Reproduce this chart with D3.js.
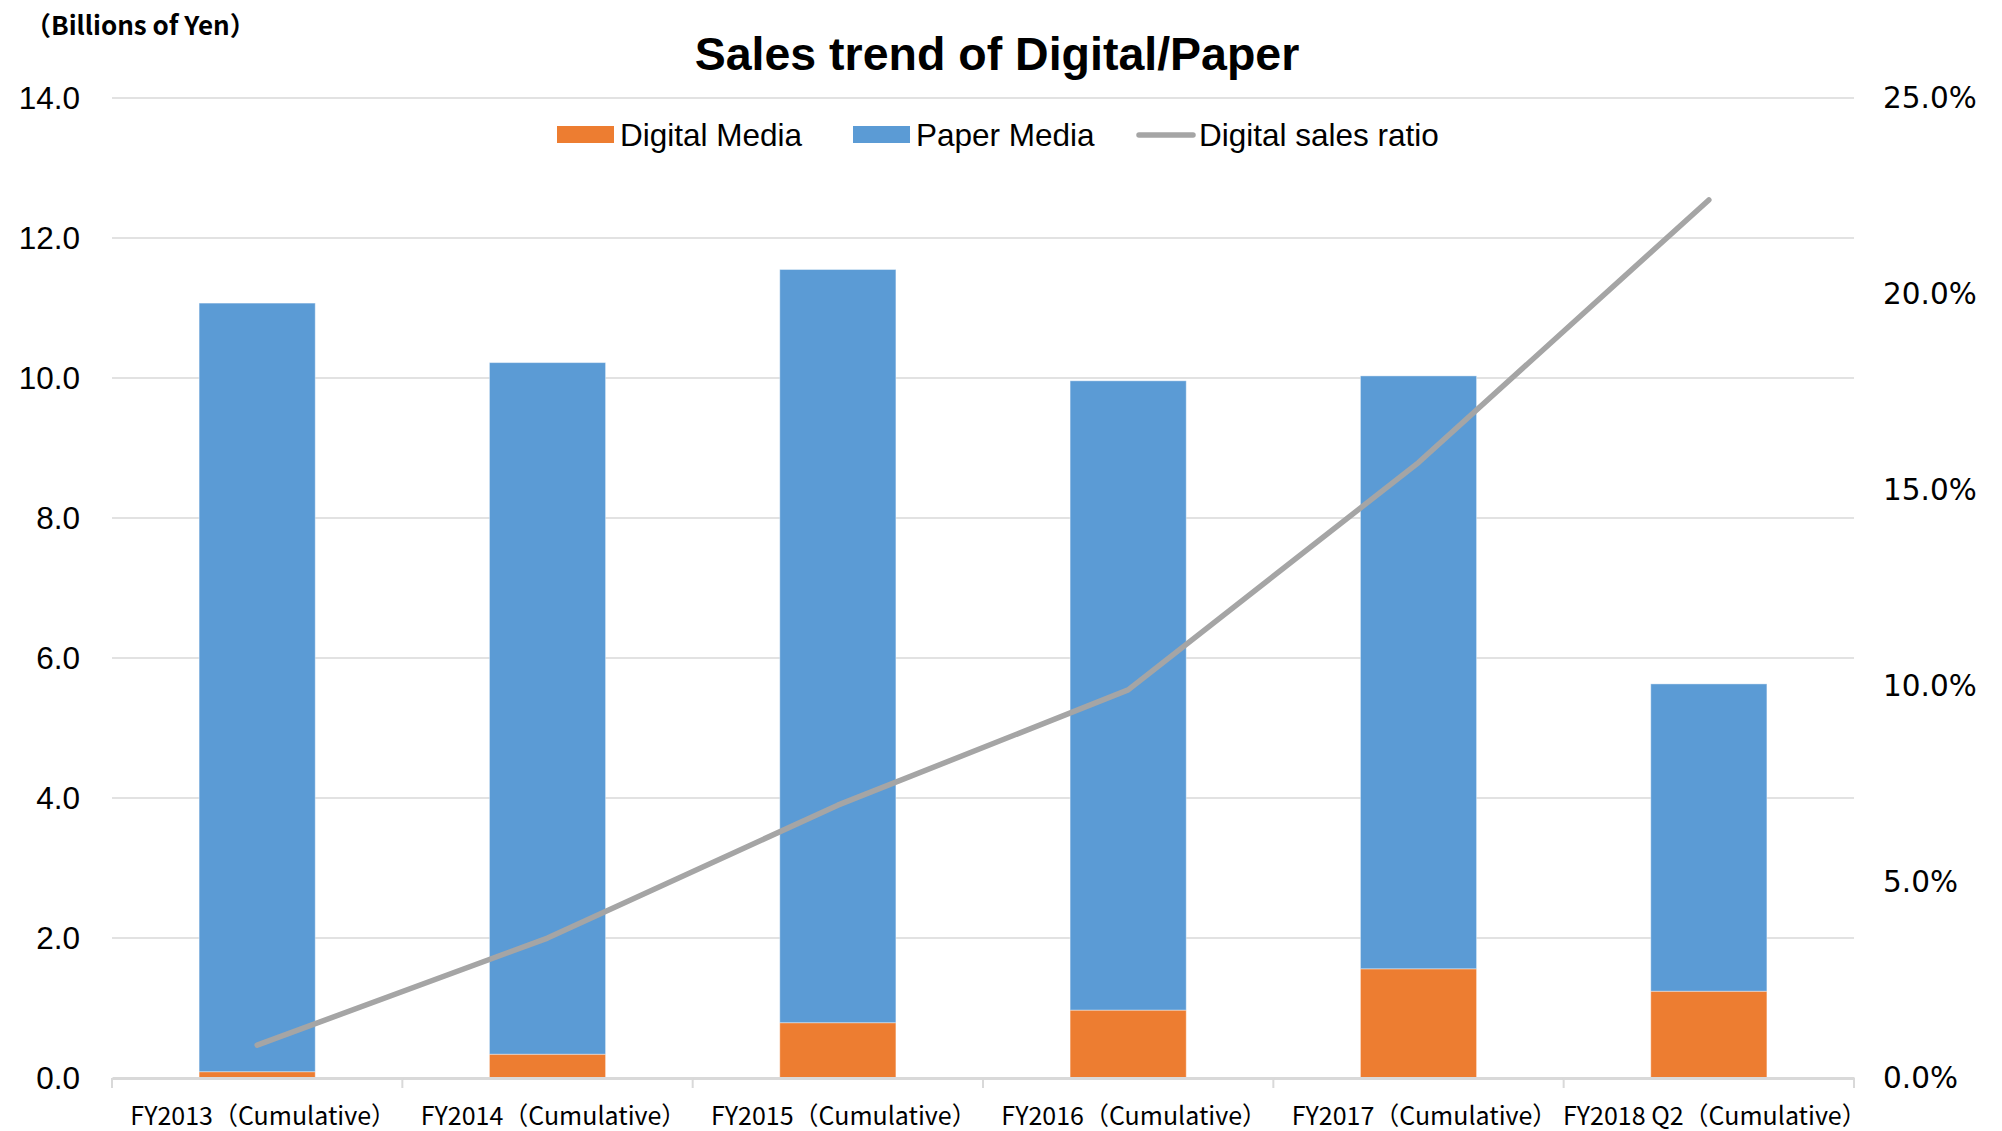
<!DOCTYPE html>
<html>
<head>
<meta charset="utf-8">
<script src="https://cdn.jsdelivr.net/npm/d3@7"></script>
<style>
  body { margin: 0; background: #fff; }
</style>
</head>
<body>
<div id="chartviz"></div>
<script>
// Input Data
var categories = ["FY2013（Cumulative）", "FY2014（Cumulative）", "FY2015（Cumulative）",
      "FY2016（Cumulative）", "FY2017（Cumulative）", "FY2018 Q2（Cumulative）"];
var digital_media = [0.09, 0.34, 0.79, 0.97, 1.56, 1.24];
var paper_media = [10.98, 9.88, 10.76, 8.99, 8.47, 4.39];
var digital_ratio = [0.84, 3.57, 6.96, 9.9, 15.7, 22.4];
var left_ticks = [0, 2, 4, 6, 8, 10, 12, 14];
var right_ticks = [0, 5, 10, 15, 20, 25];
var series_names = ["Digital Media", "Paper Media", "Digital sales ratio"];

var margin = { top: 98, right: 148, bottom: 53, left: 112 },
      width = 2002 - margin.left - margin.right,
      height = 1131 - margin.top - margin.bottom;

var root = d3.select("#chartviz")
      .append("svg")
      .attr("width", 2002)
      .attr("height", 1131);

var svg = root.append("g")
      .attr("transform", "translate(" + margin.left + "," + margin.top + ")");

var arr_data = categories.map(function (c, i) {
      return { name: c, digital: digital_media[i], paper: paper_media[i], ratio: digital_ratio[i] };
});

// Scales
var xScale = d3.scaleBand()
      .range([0, width])
      .domain(categories)
      .paddingInner(0.6)
      .paddingOuter(0.3);

var yScale = d3.scaleLinear()
      .domain([0, 14])
      .range([height, 0]);

var yRight = d3.scaleLinear()
      .domain([0, 25])
      .range([height, 0]);

// Gridlines
svg.selectAll("grid")
      .data(left_ticks.slice(1))
      .enter()
      .append("line")
      .attr("x1", 0)
      .attr("x2", width)
      .attr("y1", function (d) { return yScale(d); })
      .attr("y2", function (d) { return yScale(d); })
      .attr("stroke", "#d9d9d9")
      .attr("stroke-width", 1.5);

// Left axis
var leftAxis = svg.append("g")
      .call(d3.axisLeft(yScale).tickValues(left_ticks).tickFormat(d3.format(".1f")).tickSize(0).tickPadding(32));
leftAxis.select(".domain").remove();
leftAxis.selectAll("text")
      .style("font-family", "'Liberation Sans', Arial, sans-serif")
      .style("font-size", "31.5px")
      .attr("fill", "#000");

// Right axis
var rightAxis = svg.append("g")
      .attr("transform", "translate(" + width + ",0)")
      .call(d3.axisRight(yRight).tickValues(right_ticks).tickFormat(function (d) { return d.toFixed(1) + "%"; }).tickSize(0).tickPadding(29));
rightAxis.select(".domain").remove();
rightAxis.selectAll("text")
      .style("font-family", "'DejaVu Sans', Verdana, sans-serif")
      .style("font-size", "29.5px")
      .attr("fill", "#000");

// Stacked bars
svg.selectAll("digitalbar")
      .data(arr_data)
      .enter()
      .append("rect")
      .attr("x", function (d) { return xScale(d.name); })
      .attr("width", xScale.bandwidth())
      .attr("y", function (d) { return yScale(d.digital); })
      .attr("height", function (d) { return yScale(0) - yScale(d.digital); })
      .attr("fill", "#ed7d31")
      .attr("stroke", "#ffffff")
      .attr("stroke-opacity", 0.4)
      .attr("stroke-width", 1);

svg.selectAll("paperbar")
      .data(arr_data)
      .enter()
      .append("rect")
      .attr("x", function (d) { return xScale(d.name); })
      .attr("width", xScale.bandwidth())
      .attr("y", function (d) { return yScale(d.digital + d.paper); })
      .attr("height", function (d) { return yScale(d.digital) - yScale(d.digital + d.paper); })
      .attr("fill", "#5b9bd5")
      .attr("stroke", "#ffffff")
      .attr("stroke-opacity", 0.4)
      .attr("stroke-width", 1);

// Bottom axis
var bottomAxis = svg.append("g")
      .attr("transform", "translate(0," + height + ")")
      .call(d3.axisBottom(xScale).tickSize(0).tickPadding(29));
bottomAxis.select(".domain")
      .attr("stroke", "#d9d9d9")
      .attr("stroke-width", 3);
bottomAxis.selectAll("text")
      .attr("dx", 6)
      .style("font-family", "'Noto Sans CJK JP', sans-serif")
      .style("font-size", "25px")
      .attr("fill", "#000");

// Category separator ticks
var bounds = categories.map(function (c) { return xScale(c) - xScale.step() * xScale.paddingInner() / 2; });
bounds.push(width);
bounds[0] = 0;
svg.selectAll("sepTick")
      .data(bounds)
      .enter()
      .append("line")
      .attr("x1", function (d) { return d; })
      .attr("x2", function (d) { return d; })
      .attr("y1", height)
      .attr("y2", height + 10)
      .attr("stroke", "#d9d9d9")
      .attr("stroke-width", 2);

// Ratio line
var line = d3.line()
      .x(function (d) { return xScale(d.name) + xScale.bandwidth() / 2; })
      .y(function (d) { return yRight(d.ratio); });

svg.append("path")
      .datum(arr_data)
      .attr("d", line)
      .attr("fill", "none")
      .attr("stroke", "#a5a5a5")
      .attr("stroke-width", 5.5)
      .attr("stroke-linecap", "round")
      .attr("stroke-linejoin", "round");

// Title and unit
root.append("text")
      .attr("x", 997)
      .attr("y", 70)
      .attr("text-anchor", "middle")
      .style("font-family", "'Liberation Sans', Arial, sans-serif")
      .style("font-weight", "bold")
      .style("font-size", "46.5px")
      .text("Sales trend of Digital/Paper");

root.append("text")
      .attr("x", 25)
      .attr("y", 35)
      .style("font-family", "'Noto Sans CJK JP', sans-serif")
      .style("font-weight", "bold")
      .style("font-size", "26px")
      .text("（Billions of Yen）");

// Legend
var legend = root.append("g");
var legend_x = [557, 853, 1136];
var legend_colors = ["#ed7d31", "#5b9bd5", "#a5a5a5"];

legend.selectAll("swatch")
      .data(series_names.slice(0, 2))
      .enter()
      .append("rect")
      .attr("x", function (d, i) { return legend_x[i]; })
      .attr("y", 126)
      .attr("width", 57)
      .attr("height", 17)
      .attr("fill", function (d, i) { return legend_colors[i]; });

legend.append("line")
      .attr("x1", legend_x[2] + 3)
      .attr("x2", legend_x[2] + 57)
      .attr("y1", 135)
      .attr("y2", 135)
      .attr("stroke", legend_colors[2])
      .attr("stroke-width", 5.5)
      .attr("stroke-linecap", "round");

legend.selectAll("legendtext")
      .data(series_names)
      .enter()
      .append("text")
      .attr("x", function (d, i) { return legend_x[i] + 63; })
      .attr("y", 146)
      .style("font-family", "'Liberation Sans', Arial, sans-serif")
      .style("font-size", "31.5px")
      .text(function (d) { return d; });
</script>
</body>
</html>
